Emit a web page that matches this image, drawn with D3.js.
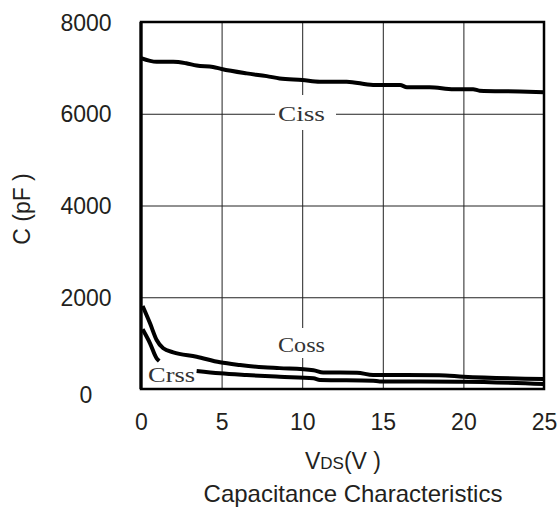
<html>
<script src="https://d3js.org/d3.v7.min.js"></script>
<style>
    body { margin: 0; background: #fff; }
    text { font-family: 'Liberation Sans', Arial, sans-serif; fill: #231f20; }
    .lbl { font-family: 'Liberation Serif', 'Times New Roman', serif; fill: #333; }
</style>
<body>
<svg id="chart" width="559" height="512"></svg>
<script>
    // values
    const xTicks = [0, 5, 10, 15, 20, 25];
    const yTicks = [0, 2000, 4000, 6000, 8000];

    const vdsCiss = [0, 0.97, 2.0, 2.8, 3.45, 4.47, 5, 6.55, 7.8, 8.6, 10, 11.1, 12.76, 14.4, 16.07, 16.5, 17.9, 19.4, 20.6, 21.0, 23.5, 25];
    const ciss    = [7215, 7134, 7134, 7100, 7050, 7020, 6975, 6880, 6820, 6770, 6736, 6700, 6700, 6627, 6627, 6577, 6577, 6534, 6534, 6503, 6485, 6466];

    const vdsCoss = [0.1, 0.56, 0.97, 1.38, 2.0, 3.45, 4.9, 6.14, 7.59, 8.6, 10.7, 11.3, 13.4, 14.4, 18.5, 20, 25];
    const coss    = [1809, 1432, 1068, 887, 800, 704, 582, 523, 473, 455, 410, 360, 355, 305, 300, 268, 218];

    // null marks the gap left for the Crss label
    const vdsCrss = [0.1, 0.56, 0.97, 1.13, null, 3.45, 4.9, 6.55, 8.6, 10.7, 11.1, 14.4, 14.8, 20, 25];
    const crss    = [1301, 996, 669, 610, null, 392, 342, 305, 268, 233, 196, 181, 165, 160, 109];

    const svg = d3.select("svg#chart");
    const plot = {left: 141, right: 544, top: 22, bottom: 389};
    const w = plot.right - plot.left;
    const h = plot.bottom - plot.top;

    const x = d3.scaleLinear().domain([0, 25]).range([plot.left, plot.right]);
    const y = d3.scaleLinear().domain([0, 8000]).range([plot.bottom, plot.top]);

    // grid
    svg.append("g")
        .attr("transform", "translate(0," + plot.bottom + ")")
        .call(d3.axisBottom(x).tickValues([5, 10, 15, 20]).tickSize(-h).tickFormat(""))
        .call(g => g.select(".domain").remove())
        .call(g => g.selectAll("line").attr("stroke", "#222").attr("stroke-width", 1));
    svg.append("g")
        .attr("transform", "translate(" + plot.left + ",0)")
        .call(d3.axisLeft(y).tickValues([2000, 4000, 6000]).tickSize(-w).tickFormat(""))
        .call(g => g.select(".domain").remove())
        .call(g => g.selectAll("line").attr("stroke", "#222").attr("stroke-width", 1));

    // tick labels
    svg.append("g")
        .attr("transform", "translate(0," + plot.bottom + ")")
        .call(d3.axisBottom(x).tickValues(xTicks).tickSize(0).tickPadding(25).tickFormat(d3.format("d")))
        .call(g => g.select(".domain").remove())
        .call(g => g.selectAll("text").attr("font-size", 23).attr("fill", "#231f20"));
    svg.append("g")
        .attr("transform", "translate(" + plot.left + ",0)")
        .call(d3.axisLeft(y).tickValues(yTicks).tickSize(0).tickPadding(55).tickFormat(d3.format("d")))
        .call(g => g.select(".domain").remove())
        .call(g => g.selectAll("text")
            .attr("font-size", 23).attr("fill", "#231f20")
            .attr("text-anchor", "middle")
            .attr("dy", d => d === 0 ? "0.6em" : "0.35em"));

    // curves
    const line = d3.line()
        .defined(d => d[0] !== null)
        .x(d => x(d[0]))
        .y(d => y(d[1]))
        .curve(d3.curveMonotoneX);

    const series = [
        d3.zip(vdsCiss, ciss),
        d3.zip(vdsCoss, coss),
        d3.zip(vdsCrss, crss)
    ];
    svg.append("g").selectAll("path")
        .data(series)
        .join("path")
        .attr("d", line)
        .attr("fill", "none")
        .attr("stroke", "#000")
        .attr("stroke-width", 4)
        .attr("stroke-linejoin", "round");

    // curve labels with white boxes over the grid
    const labels = [
        {text: "Ciss", x: 278, y: 121, box: [275, 95, 61, 35]},
        {text: "Coss", x: 278, y: 352, box: [275, 328, 61, 30]},
        {text: "Crss", x: 148, y: 382, box: null}
    ];
    labels.forEach(l => {
        if (l.box) {
            svg.append("rect")
                .attr("x", l.box[0]).attr("y", l.box[1])
                .attr("width", l.box[2]).attr("height", l.box[3])
                .attr("fill", "#fff");
        }
        svg.append("text")
            .attr("class", "lbl")
            .attr("x", l.x).attr("y", l.y)
            .attr("font-size", 22)
            .attr("textLength", 47)
            .attr("lengthAdjust", "spacingAndGlyphs")
            .text(l.text);
    });

    // frame
    svg.append("rect")
        .attr("x", plot.left).attr("y", plot.top)
        .attr("width", w).attr("height", h)
        .attr("fill", "none")
        .attr("stroke", "#000")
        .attr("stroke-width", 2.5);
    svg.append("line")
        .attr("x1", plot.left).attr("x2", plot.left)
        .attr("y1", plot.top).attr("y2", plot.bottom)
        .attr("stroke", "#000").attr("stroke-width", 3.2);

    // axis titles
    const xt = svg.append("text")
        .attr("x", 343).attr("y", 469)
        .attr("text-anchor", "middle")
        .attr("font-size", 23);
    xt.append("tspan").text("V");
    xt.append("tspan").attr("font-size", 17).text("DS");
    xt.append("tspan").text("(V )");

    svg.append("text")
        .attr("transform", "translate(30,209) rotate(-90)")
        .attr("text-anchor", "middle")
        .attr("font-size", 23)
        .text("C (pF )");

    svg.append("text")
        .attr("x", 353).attr("y", 502)
        .attr("text-anchor", "middle")
        .attr("font-size", 24)
        .text("Capacitance Characteristics");
</script>
</body>
</html>
